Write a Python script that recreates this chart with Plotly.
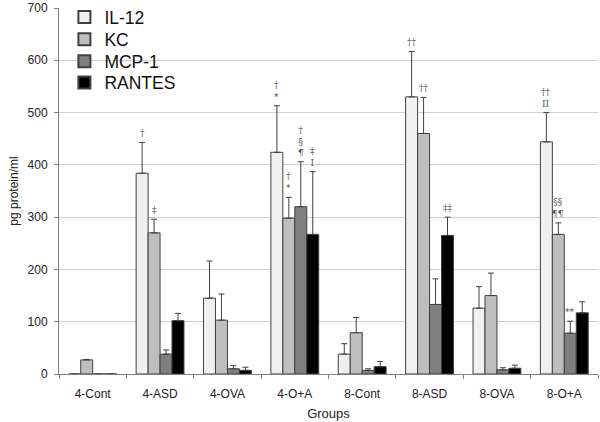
import plotly.graph_objects as go

groups = ["4-Cont", "4-ASD", "4-OVA", "4-O+A", "8-Cont", "8-ASD", "8-OVA", "8-O+A"]
series = ["IL-12", "KC", "MCP-1", "RANTES"]
il12 = [0, 384, 145, 424, 38, 530, 126, 444]
il12_top = [0, 443, 216, 513, 58, 617, 167, 500]
kc = [27, 270, 103, 298, 79, 460, 150, 267]
kc_top = [28, 296, 153, 338, 108, 529, 193, 289]
mcp1 = [0, 38, 10, 320, 7, 133, 8, 78]
mcp1_top = [0, 46, 16, 406, 10, 182, 12, 101]
rantes = [0, 102, 7, 267, 14, 265, 11, 117]
rantes_top = [0, 116, 13, 387, 24, 300, 17, 138]

# significance marks: (group index, series index, text)
marks = [
    (1, 0, "†"), (1, 1, "‡"),
    (3, 0, "†<br>*"), (3, 1, "†<br>*"), (3, 2, "†<br>§<br>¶"), (3, 3, "‡<br>I"),
    (5, 0, "††"), (5, 1, "††"), (5, 3, "‡‡"),
    (7, 0, "††<br>II"), (7, 1, "§§<br>¶¶"), (7, 2, "**"),
]

colors = ["#f0f0f0", "#bebebe", "#7f7f7f", "#000000"]
vals = [il12, kc, mcp1, rantes]
tops = [il12_top, kc_top, mcp1_top, rantes_top]
legend_ids = ["legend", "legend2", "legend3", "legend4"]
legend_y = [0.975, 0.914, 0.854, 0.796]

fig = go.Figure()
for name, v, t, c, lg in zip(series, vals, tops, colors, legend_ids):
    fig.add_trace(go.Bar(
        x=groups, y=v, name=name, legend=lg,
        marker=dict(color=c, line=dict(color="#404040", width=1)),
        error_y=dict(type="data", symmetric=False,
                     array=[tt - vv for tt, vv in zip(t, v)],
                     arrayminus=[0] * len(v),
                     color="#404040", thickness=1, width=3),
    ))

bargap = 0.29
bw = (1 - bargap) / 4
for gi, si, txt in marks:
    fig.add_annotation(
        x=gi + (si - 1.5) * bw, y=tops[si][gi], xref="x", yref="y",
        text=txt, showarrow=False, yanchor="bottom", yshift=2,
        font=dict(family="DejaVu Serif, serif", size=9, color="#505050"),
    )

legend_style = dict(x=0.01, xanchor="left", yanchor="middle",
                    font=dict(size=17.5, color="#111111"), bgcolor="rgba(0,0,0,0)",
                    itemsizing="constant")
layout_legends = {lg: dict(legend_style, y=ly) for lg, ly in zip(legend_ids, legend_y)}

fig.update_layout(
    width=600, height=422,
    margin=dict(l=59, r=2, t=8, b=48, autoexpand=False),
    paper_bgcolor="white", plot_bgcolor="white",
    barmode="group", bargap=bargap, bargroupgap=0,
    font=dict(family="Liberation Sans, Arial, sans-serif", size=12, color="#222222"),
    showlegend=True,
    **layout_legends,
)
fig.update_xaxes(
    title=dict(text="Groups", font=dict(size=13), standoff=8),
    showline=True, linecolor="#808080", linewidth=1,
    ticks="outside", tickson="boundaries", ticklen=4, tickcolor="#808080",
    ticklabelstandoff=9,
    showgrid=False, automargin=False,
)
fig.update_yaxes(
    title=dict(text="pg protein/ml", font=dict(size=12), standoff=6),
    range=[0, 700], dtick=100,
    showline=True, linecolor="#808080", linewidth=1,
    ticks="outside", ticklen=4, tickcolor="#808080",
    ticklabelstandoff=4, ticklabeloverflow="allow",
    showgrid=True, gridcolor="#d0d0d0", gridwidth=1, zeroline=False,
    automargin=False,
)

fig.write_html("out.html", config={"displayModeBar": False},
               post_script="document.body.style.margin='0px';")
